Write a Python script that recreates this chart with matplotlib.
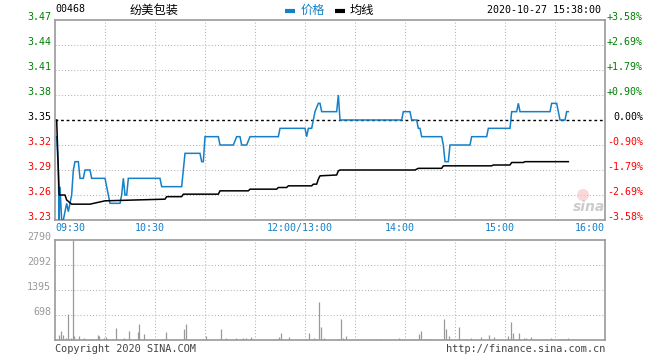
import matplotlib
matplotlib.use("Agg")

from matplotlib import pyplot
from matplotlib import transforms
from matplotlib.patches import Ellipse

import numpy as np

# minutes since 09:30, lunch break removed (09:30-12:00, 13:00-16:00)
price_min = [1, 2, 2.5, 3, 4, 5, 6, 7, 8, 9, 10, 11, 12, 14, 15, 17, 18, 21, 22, 30,
	31, 32, 33, 39, 40, 41, 42, 43, 44, 63, 64, 76, 77, 78, 87, 88, 89, 90, 98, 99,
	107, 109, 111, 112, 115, 117, 134, 135, 150, 151, 152, 154, 155, 156, 158, 159, 160, 169, 170, 171,
	208, 209, 213, 214, 217, 218, 219, 220, 232, 233, 234, 236, 237, 249, 250, 259, 260, 273, 274, 277,
	278, 279, 297, 298, 301, 302, 303, 306, 307, 308]
price_val = [3.33, 3.29, 3.23, 3.27, 3.23, 3.23, 3.24, 3.25, 3.24, 3.25, 3.26, 3.29, 3.30, 3.30, 3.28, 3.28, 3.29, 3.29, 3.28, 3.28,
	3.27, 3.26, 3.25, 3.25, 3.26, 3.28, 3.26, 3.26, 3.28, 3.28, 3.27, 3.27, 3.29, 3.31, 3.31, 3.30, 3.30, 3.33, 3.33, 3.32,
	3.32, 3.33, 3.33, 3.32, 3.32, 3.33, 3.33, 3.34, 3.34, 3.33, 3.34, 3.34, 3.35, 3.36, 3.37, 3.37, 3.36, 3.36, 3.38, 3.35,
	3.35, 3.36, 3.36, 3.35, 3.35, 3.34, 3.34, 3.33, 3.33, 3.32, 3.30, 3.30, 3.32, 3.32, 3.33, 3.33, 3.34, 3.34, 3.36, 3.36,
	3.37, 3.36, 3.36, 3.37, 3.37, 3.36, 3.35, 3.35, 3.36, 3.36]

avg_min = [1, 1.5, 2.5, 6, 7, 10, 21, 30, 66, 67, 76, 77, 98, 99, 116, 117, 133, 134, 139, 140,
	154, 155, 157, 158, 159, 169, 170, 171, 216, 218, 232, 233, 262, 263, 273, 274, 281, 282, 308]
avg_val = [3.35, 3.32, 3.26, 3.26, 3.254, 3.249, 3.249, 3.253, 3.255, 3.258, 3.258, 3.261, 3.261, 3.265, 3.265, 3.267, 3.267, 3.269, 3.269, 3.271,
	3.271, 3.273, 3.273, 3.279, 3.283, 3.284, 3.289, 3.290, 3.290, 3.292, 3.292, 3.295, 3.295, 3.296, 3.296, 3.299, 3.299, 3.300, 3.300]

vol_min = [2, 3, 4, 6, 7, 8, 9, 10, 11, 14, 17, 21, 22, 24, 25, 26, 29, 30, 31, 34,
	36, 40, 41, 42, 44, 49, 50, 53, 64, 66, 70, 72, 76, 77, 78, 88, 90, 99, 102, 108,
	112, 114, 117, 130, 132, 134, 135, 140, 150, 152, 155, 158, 159, 160, 161, 170, 171, 172, 174, 189,
	192, 195, 198, 206, 209, 215, 218, 219, 221, 222, 224, 227, 233, 234, 236, 242, 249, 255, 260, 263,
	271, 273, 274, 277, 278, 281, 282, 285, 297, 302, 303, 305, 306, 307]
vol_val = [140, 251, 140, 47, 716, 20, 47, 2790, 112, 112, 47, 28, 28, 28, 140, 112, 47, 93, 28, 28,
	326, 28, 47, 28, 251, 214, 437, 158, 28, 214, 28, 28, 28, 307, 446, 28, 112, 298, 47, 47,
	47, 47, 93, 28, 28, 93, 205, 93, 28, 186, 47, 1070, 353, 28, 47, 20, 577, 47, 112, 20,
	20, 20, 20, 47, 20, 20, 167, 251, 20, 20, 20, 20, 577, 307, 112, 372, 47, 74, 140, 74,
	112, 511, 205, 20, 205, 47, 47, 74, 47, 20, 20, 20, 28, 47]

prev_close = 3.35
price_ticks = [3.23, 3.26, 3.29, 3.32, 3.35, 3.38, 3.41, 3.44, 3.47]
vol_ticks = [698, 1395, 2092, 2790]
time_labels = ["09:30", "10:30", "12:00/13:00", "14:00", "15:00", "16:00"]
time_pos = [0, 60, 150, 210, 270, 330]

code = "00468"
name = "纷美包装"
stamp = "2020-10-27 15:38:00"

BLUE = "#1580c8"
GREEN = "#008000"
RED = "#ff0000"
GRAY = "#999999"
GRID = "#b4b4b4"
MONO = "DejaVu Sans Mono"
CJK = ["Noto Sans CJK SC", "DejaVu Sans"]
FS = 7.2

W, H = 660, 360

def fx(px):
	return px/W

def fy(py):
	return 1-py/H

fig = pyplot.figure(figsize=(6.6, 3.6), dpi=100)
fig.patch.set_facecolor("white")

axp = fig.add_axes([fx(55), fy(220), 550/W, 200/H])
axv = fig.add_axes([fx(55), fy(340), 550/W, 100/H])

for ax in (axp, axv):
	ax.set_xlim(0, 330)
	for sp in ax.spines.values():
		sp.set_color(GRAY)
		sp.set_linewidth(1.2)
	ax.tick_params(length=0, labelleft=False, labelbottom=False)
	ax.set_xticks([])
	ax.set_yticks([])
	for m in range(30, 330, 30):
		ax.axvline(m, color=GRID, lw=0.75, ls=(0, (1, 2)), zorder=0)

# price panel
axp.set_ylim(price_ticks[0], price_ticks[-1])
for p in price_ticks[1:-1]:
	if abs(p-prev_close) < 1e-9:
		continue
	axp.axhline(p, color=GRID, lw=0.75, ls=(0, (1, 2)), zorder=0)
axp.axhline(prev_close, color="black", lw=1.0, ls=(0, (2, 2)), zorder=1)

axp.plot(price_min, price_val, color=BLUE, lw=1.1, zorder=3, solid_joinstyle="miter")
axp.plot(avg_min, avg_val, color="black", lw=1.1, zorder=3)

ltrans = axp.get_yaxis_transform()
for p in price_ticks:
	if p > prev_close+1e-9:
		col = GREEN
	elif p < prev_close-1e-9:
		col = RED
	else:
		col = "black"
	pct = (p-prev_close)/prev_close*100
	if abs(pct) < 1e-9:
		ptxt = "0.00%"
	else:
		ptxt = f"{pct:+.2f}%"
	axp.text(-0.007, p, f"{p:.2f}", transform=ltrans, ha="right", va="baseline",
		fontsize=FS, family=MONO, color=col)
	axp.text(1.069, p, ptxt, transform=ltrans, ha="right", va="baseline",
		fontsize=FS, family=MONO, color=col)

# time labels, the inner ones sit a bit left of their grid line
xtrans = axp.get_xaxis_transform()
shift = transforms.ScaledTranslation(-5.5/100, 0, fig.dpi_scale_trans)
for lbl, m in zip(time_labels, time_pos):
	if m == 0:
		axp.text(m, -0.015, lbl, transform=xtrans, ha="left", va="top",
			fontsize=FS, family=MONO, color=BLUE)
	elif m == 330:
		axp.text(m, -0.015, lbl, transform=xtrans, ha="right", va="top",
			fontsize=FS, family=MONO, color=BLUE)
	else:
		axp.text(m, -0.015, lbl, transform=xtrans+shift, ha="center", va="top",
			fontsize=FS, family=MONO, color=BLUE)

# volume panel
axv.set_ylim(0, vol_ticks[-1])
for v in vol_ticks[:-1]:
	axv.axhline(v, color=GRID, lw=0.75, ls=(0, (1, 2)), zorder=0)
axv.vlines(np.array(vol_min)+0.5, 0, vol_val, color=GRAY, lw=0.9, zorder=2)
vtrans = axv.get_yaxis_transform()
for v in vol_ticks:
	axv.text(-0.007, v, f"{v}", transform=vtrans, ha="right", va="baseline",
		fontsize=FS, family=MONO, color=GRAY)

# header
fig.text(fx(55), fy(9), code, ha="left", va="center", fontsize=FS, family=MONO, color="black")
fig.text(fx(130), fy(10), name, ha="left", va="center", fontsize=8.8, family=CJK, color="black")
fig.add_artist(pyplot.Line2D([fx(285), fx(295)], [fy(11), fy(11)], color=BLUE, lw=3, solid_capstyle="butt"))
fig.text(fx(301), fy(10), "价格", ha="left", va="center", fontsize=8.8, family=CJK, color=BLUE)
fig.add_artist(pyplot.Line2D([fx(335), fx(345)], [fy(11), fy(11)], color="black", lw=3, solid_capstyle="butt"))
fig.text(fx(350), fy(10), "均线", ha="left", va="center", fontsize=8.8, family=CJK, color="black")
fig.text(fx(601), fy(10), stamp, ha="right", va="center", fontsize=FS, family=MONO, color="black")

# footer
fig.text(fx(55), fy(349), "Copyright 2020 SINA.COM", ha="left", va="center", fontsize=7.4, family=MONO, color="#444444")
fig.text(fx(605), fy(349), "http://finance.sina.com.cn", ha="right", va="center", fontsize=7.4, family=MONO, color="#444444")

# faint sina watermark
fig.add_artist(Ellipse((fx(583), fy(195)), 12/W, 12/H, transform=fig.transFigure,
	facecolor="#f6c8c8", edgecolor="none", alpha=0.7))
fig.text(fx(589), fy(207), "sina", ha="center", va="center", fontsize=10, fontweight="bold",
	style="italic", family="DejaVu Sans", color="#cccccc")

fig.savefig("out.png", dpi=100, facecolor="white")
